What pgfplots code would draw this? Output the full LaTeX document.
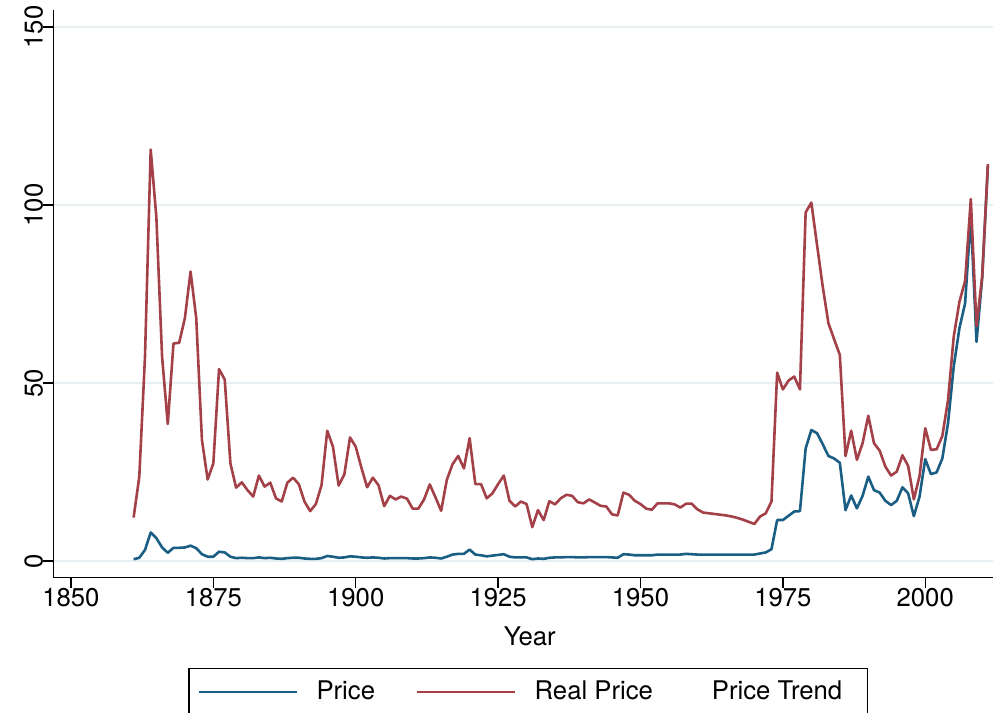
\documentclass[border=0pt]{standalone}
\usepackage{fontspec}
\setmainfont{TeX Gyre Heros}
\usepackage{pgfplots}
\usepackage{pgfplotstable}
\pgfplotsset{compat=1.18}
\definecolor{pblue}{RGB}{26,94,132}
\definecolor{pred}{RGB}{163,64,72}
\definecolor{gridc}{RGB}{230,240,242}

\pgfplotstableread{
year price real
1861 0.5 12.2
1862 0.9 23.7
1863 3.1 57.4
1864 8.0 115.6
1865 6.4 96.5
1866 3.8 57.4
1867 2.3 38.5
1868 3.7 61.1
1869 3.7 61.3
1870 3.8 68.2
1871 4.3 81.3
1872 3.6 68.2
1873 1.9 34.0
1874 1.2 22.9
1875 1.2 27.4
1876 2.6 53.9
1877 2.4 51.0
1878 1.2 27.4
1879 0.8 20.6
1880 0.9 22.1
1881 0.8 19.9
1882 0.8 18.1
1883 1.0 24.0
1884 0.8 20.9
1885 0.9 22.0
1886 0.7 17.6
1887 0.6 16.7
1888 0.8 22.0
1889 0.9 23.4
1890 0.9 21.6
1891 0.7 16.7
1892 0.6 14.0
1893 0.6 16.0
1894 0.8 21.3
1895 1.4 36.6
1896 1.2 32.1
1897 0.9 21.2
1898 1.0 24.3
1899 1.3 34.7
1900 1.2 32.1
1901 1.0 26.2
1902 0.9 20.7
1903 1.0 23.4
1904 0.9 21.3
1905 0.7 15.4
1906 0.8 18.3
1907 0.8 17.3
1908 0.8 18.1
1909 0.8 17.5
1910 0.7 14.7
1911 0.7 14.7
1912 0.8 17.3
1913 1.0 21.5
1914 0.9 17.9
1915 0.7 14.1
1916 1.2 22.8
1917 1.8 27.2
1918 2.0 29.5
1919 2.0 26.0
1920 3.2 34.5
1921 1.8 21.6
1922 1.6 21.6
1923 1.3 17.6
1924 1.5 19.0
1925 1.7 21.6
1926 1.9 24.0
1927 1.2 16.9
1928 1.0 15.3
1929 1.0 16.7
1930 1.0 16.0
1931 0.5 9.5
1932 0.7 14.3
1933 0.6 11.5
1934 0.9 16.8
1935 1.0 15.9
1936 1.0 17.6
1937 1.1 18.6
1938 1.1 18.3
1939 1.0 16.5
1940 1.0 16.2
1941 1.1 17.3
1942 1.1 16.4
1943 1.1 15.5
1944 1.1 15.3
1945 1.0 13.1
1946 0.9 12.8
1947 1.9 19.2
1948 1.8 18.6
1949 1.6 16.9
1950 1.6 16.0
1951 1.6 14.7
1952 1.6 14.4
1953 1.8 16.2
1954 1.8 16.2
1955 1.8 16.2
1956 1.8 15.9
1957 1.8 15.0
1958 2.0 16.1
1959 1.9 16.1
1960 1.8 14.5
1961 1.8 13.6
1962 1.8 13.4
1963 1.8 13.2
1964 1.8 13.0
1965 1.8 12.8
1966 1.8 12.5
1967 1.8 12.1
1968 1.8 11.6
1969 1.8 11.0
1970 1.8 10.4
1971 2.1 12.5
1972 2.4 13.4
1973 3.3 16.7
1974 11.5 52.9
1975 11.5 48.2
1976 12.7 50.7
1977 13.9 51.8
1978 14.0 48.2
1979 31.6 97.9
1980 36.8 100.7
1981 35.9 88.8
1982 32.8 77.1
1983 29.5 66.8
1984 28.8 62.3
1985 27.6 57.9
1986 14.3 29.5
1987 18.4 36.6
1988 14.8 28.4
1989 18.3 33.1
1990 23.7 40.8
1991 19.9 33.1
1992 19.2 31.0
1993 16.9 26.5
1994 15.7 24.0
1995 16.9 25.1
1996 20.7 29.7
1997 19.0 26.7
1998 12.6 17.3
1999 18.1 23.9
2000 28.6 37.3
2001 24.4 31.2
2002 24.9 31.4
2003 28.8 35.1
2004 38.7 45.2
2005 54.6 63.0
2006 65.4 72.8
2007 72.4 78.7
2008 97.0 101.7
2009 61.6 66.0
2010 79.5 80.0
2011 111.0 111.5
}\data

\begin{document}
\begin{tikzpicture}
\begin{axis}[name=ax, scale only axis, width=469.85pt, height=283.85pt,
  xmin=1846.9, xmax=2011.9, ymin=-4.7, ymax=154.8,
  axis x line*=bottom, axis y line*=left,
  axis line style={line width=0.65pt, black},
  xtick={1850,1875,...,2000}, ytick={0,50,100,150},
  tick align=outside, major tick length=5pt,
  tick style={line width=0.65pt, black},
  minor tick num=0,
  ymajorgrids, grid style={gridc, line width=0.8pt},
  font=\fontsize{12.85}{15}\selectfont,
  /pgf/number format/assume math mode=true,
  /pgf/number format/1000 sep={},
  xticklabel style={inner sep=0pt},
  yticklabel style={rotate=90, anchor=south, inner sep=0pt},
  xlabel={Year},
  xlabel style={at={(axis description cs:0.507,0)}, anchor=base, yshift=-33.65pt, inner sep=0pt},
  legend columns=3,
  legend image code/.code={\draw[#1, line width=1.3pt] (0pt,0pt) -- (49pt,0pt);},
  legend style={at={(axis description cs:0.5052,0)}, anchor=north, yshift=-45.15pt,
    draw=black, line width=0.6pt, inner xsep=4.5pt, inner ysep=6.3pt,
    font=\fontsize{12.85}{15}\selectfont,
    nodes={inner sep=0pt},
    /tikz/every even column/.append style={column sep=20.5pt},
    /tikz/every odd column/.append style={column sep=9pt}},
]
\addplot[pblue, line width=1.3pt, line join=round] table[x=year,y=price]{\data};
\addlegendentry{Price}
\addplot[pred, line width=1.3pt, line join=round] table[x=year,y=real]{\data};
\addlegendentry{Real Price}
\addlegendimage{empty legend}
\addlegendentry{Price Trend\rule{8pt}{0pt}}
\end{axis}
\pgfresetboundingbox
\path ([xshift=-26.65pt,yshift=-67.15pt]ax.south west) rectangle ([xshift=0.5pt,yshift=5pt]ax.north east);
\end{tikzpicture}
\end{document}
